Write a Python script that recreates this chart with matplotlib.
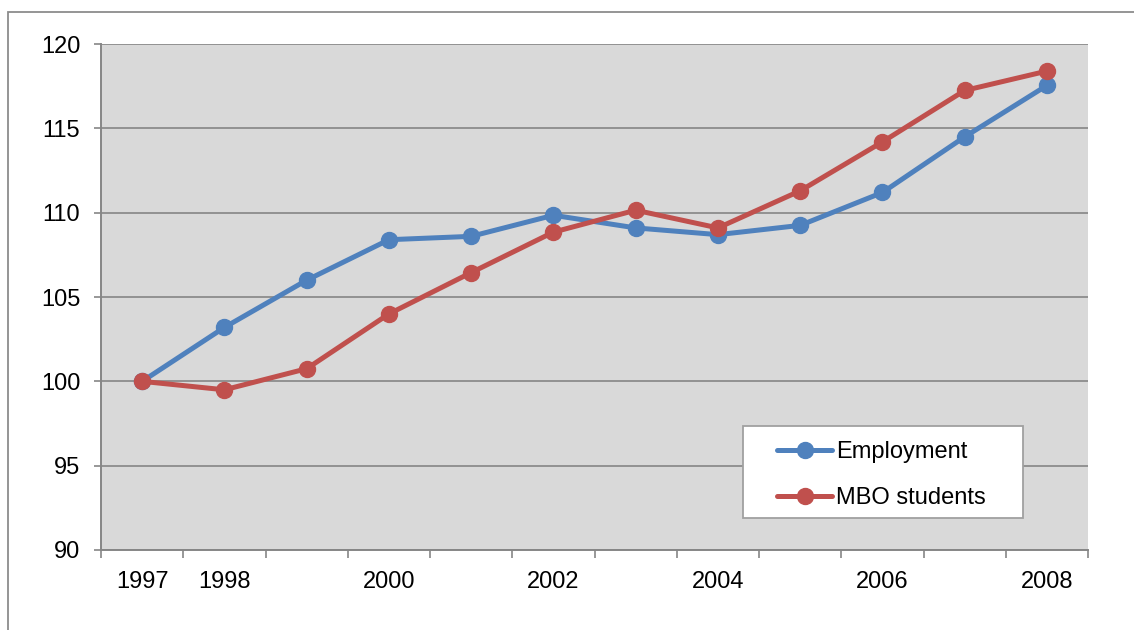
"""
Employment vs MBO student numbers, index 1997 = 100.
"""
import matplotlib
matplotlib.use("Agg")
import matplotlib.pyplot as plt
from matplotlib.patches import Rectangle
import numpy as np

plt.rcParams["font.family"] = ["Liberation Sans", "DejaVu Sans"]

YEARS = ["1997", "1998", "1999", "2000", "2001", "2002",
         "2003", "2004", "2005", "2006", "2007", "2008"]
# only some years carry a label on the axis
SHOWN_LABELS = ["1997", "1998", "", "2000", "", "2002",
                "", "2004", "", "2006", "", "2008"]
EMPLOYMENT = [100.0, 103.2, 106.0, 108.4, 108.6, 109.85,
              109.1, 108.7, 109.25, 111.2, 114.5, 117.55]
MBO_STUDENTS = [100.0, 99.5, 100.75, 104.0, 106.45, 108.85,
                110.15, 109.1, 111.3, 114.2, 117.25, 118.4]

BLUE = "#4F81BD"
RED = "#C0504D"
GRID = "#868686"
FONT_SIZE = 17


def main():
    fig = plt.figure(figsize=(11.34, 6.30), dpi=100)
    ax = fig.add_axes([0.0891, 0.127, 0.8704, 0.803])
    ax.set_facecolor("#D9D9D9")

    x = np.arange(len(YEARS))
    line_kw = dict(lw=3.6, marker="o", markersize=11.5, solid_capstyle="round")
    ax.plot(x, EMPLOYMENT, color=BLUE, label="Employment", zorder=3, **line_kw)
    ax.plot(x, MBO_STUDENTS, color=RED, label="MBO students", zorder=4, **line_kw)

    ax.set_xlim(-0.5, len(YEARS) - 0.5)
    ax.set_ylim(90, 120)
    ax.set_yticks(np.arange(90, 121, 5))
    ax.yaxis.grid(True, color=GRID, lw=1.2)
    ax.set_axisbelow(True)

    ax.set_xticks(x)
    ax.set_xticklabels(SHOWN_LABELS, fontsize=FONT_SIZE)
    ax.set_xticks(np.arange(-0.5, len(YEARS)), minor=True)
    ax.tick_params(axis="x", which="major", length=0, pad=15)
    ax.tick_params(axis="x", which="minor", length=6, width=1.2, color=GRID,
                   direction="out")
    ax.tick_params(axis="y", length=5, width=1.2, color=GRID, pad=10,
                   labelsize=FONT_SIZE)

    for side in ("top", "right"):
        ax.spines[side].set_visible(False)
    for side in ("left", "bottom"):
        ax.spines[side].set_color(GRID)
        ax.spines[side].set_linewidth(1.4)

    # legend box drawn separately so its padding can be set freely
    ax.add_patch(Rectangle((0.650, 0.063), 0.284, 0.182, transform=ax.transAxes,
                           facecolor="white", edgecolor="#A0A0A0", lw=1.3,
                           zorder=5))
    leg = ax.legend(loc="center", bbox_to_anchor=(0.791, 0.148), frameon=False,
                    fontsize=FONT_SIZE, handlelength=2.3, handletextpad=0.2,
                    labelspacing=1.0, borderpad=0)
    leg.set_zorder(6)

    # outer chart border
    fig.add_artist(Rectangle((8 / 1134, -0.2), 1.3, 0.2 + 1 - 12 / 630,
                             transform=fig.transFigure, facecolor="none",
                             edgecolor="#8C8C8C", lw=1.3))

    fig.savefig("out.png", dpi=100)
    plt.close(fig)


if __name__ == "__main__":
    main()
